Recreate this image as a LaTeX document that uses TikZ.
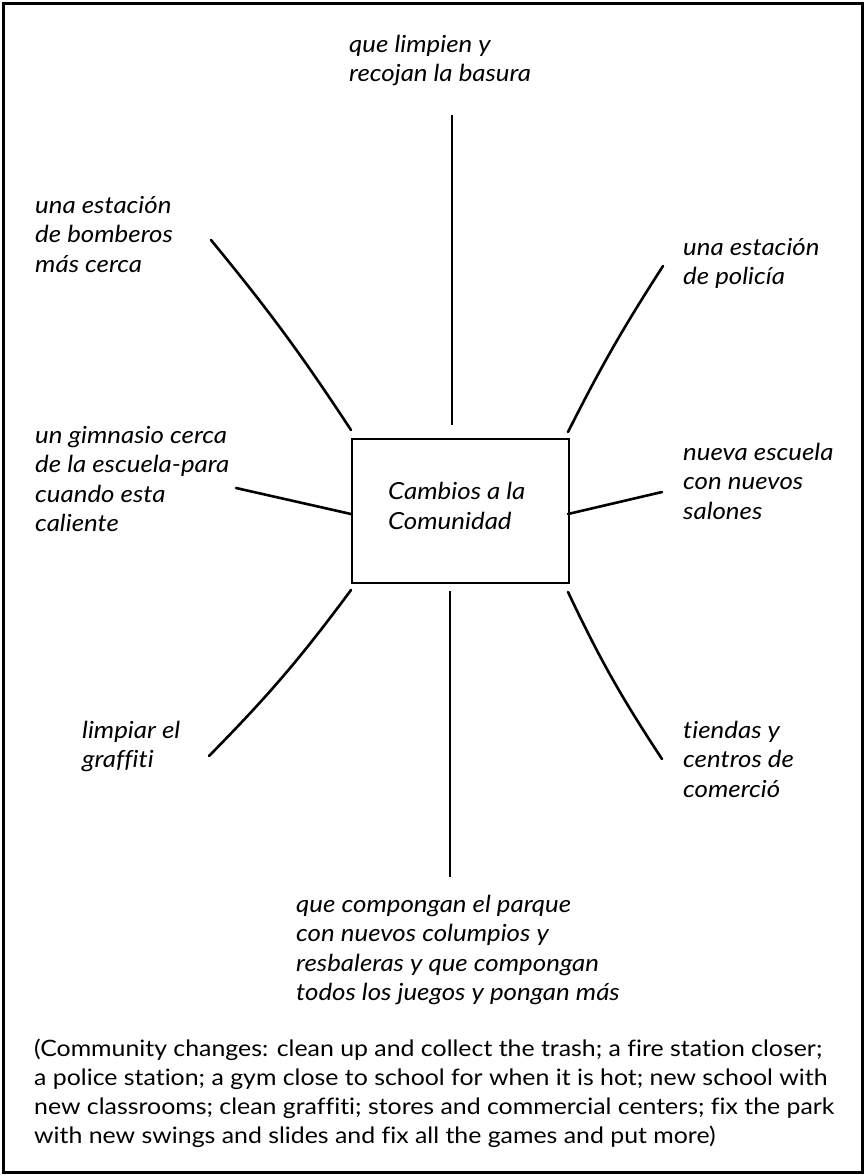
\documentclass[tikz,border=0pt]{standalone}
\usepackage{fontspec}
\setmainfont{Lato}[FakeStretch=1.1, Ligatures=NoCommon]
\begin{document}
\begin{tikzpicture}[x=1pt,y=-1pt,
  lbl/.style={anchor=base west, align=left, inner sep=0pt, font=\itshape\fontsize{23.5}{29.5}\selectfont},
  captiontext/.style={anchor=base west, align=left, inner sep=0pt, font=\fontsize{22.6}{29}\selectfont},
  spoke/.style={line width=2.6pt, line cap=round},
  thin spoke/.style={line width=2pt},
  centre/.style={draw, line width=2pt, minimum width=217pt, minimum height=144pt},
]
\useasboundingbox (0,0) rectangle (865,1175);
\draw[line width=3pt] (3.2,3.2) rectangle (862,1172);

\node[centre] (c) at (460,511) {};
\node[lbl] (ct) at (388,529) {Cambios a la\\Comunidad};

% multi-line nodes: base anchor sits on the last line's baseline
\node[lbl] (top) at (349,81.5) {que limpien y\\recojan la basura};
\node[lbl] (ul) at (35,272) {una estación\\de bomberos\\más cerca};
\node[lbl] (ur) at (683,284.5) {una estación\\de policía};
\node[lbl] (ml) at (35,531.5) {un gimnasio cerca\\de la escuela-para\\cuando esta\\caliente};
\node[lbl] (mr) at (683,519) {nueva escuela\\con nuevos\\salones};
\node[lbl] (ll) at (82,767.5) {limpiar el\\graffiti};
\node[lbl] (lr) at (683,797) {tiendas y\\centros de\\comerció};
\node[lbl] (bot) at (296,1000.5) {que compongan el parque\\con nuevos columpios y\\resbaleras y que compongan\\todos los juegos y pongan más};

\node[captiontext] (caption) at (34,1143) {(Community changes: clean up and collect the trash; a fire station closer;\\
a police station; a gym close to school for when it is hot; new school with\\
new classrooms; clean graffiti; stores and commercial centers; fix the park\\
with new swings and slides and fix all the games and put more)};

\coordinate (a1) at (452,115); \coordinate (a2) at (452,425);
\coordinate (b1) at (211,240); \coordinate (b2) at (351,430);
\coordinate (c1) at (663,266); \coordinate (c2) at (568,432);
\coordinate (d1) at (236,488); \coordinate (d2) at (351,514);
\coordinate (e1) at (662,492); \coordinate (e2) at (568,514);
\coordinate (f1) at (351,590); \coordinate (f2) at (209,756);
\coordinate (g1) at (568,592); \coordinate (g2) at (662,759);
\coordinate (h1) at (450,591); \coordinate (h2) at (450,877);

\draw[thin spoke] (a1) -- (a2);
\draw[spoke] (b1) to[bend left=3] (b2);
\draw[spoke] (c1) to[bend right=3] (c2);
\draw[spoke] (d1) -- (d2);
\draw[spoke] (e1) -- (e2);
\draw[spoke] (f1) to[bend left=4] (f2);
\draw[spoke] (g1) to[bend right=4] (g2);
\draw[thin spoke] (h1) -- (h2);
\end{tikzpicture}
\end{document}
